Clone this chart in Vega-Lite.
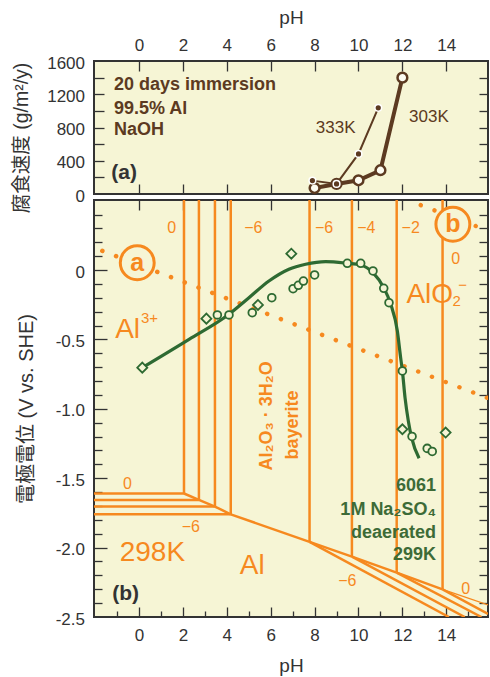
{
  "$schema": "https://vega.github.io/schema/vega-lite/v6.json",
  "background": "white",
  "padding": {"left": 10, "top": 7, "right": 0, "bottom": 0},
  "spacing": 6,
  "bounds": "flush",
  "config": {
    "view": {"stroke": "#333333", "strokeWidth": 2, "fill": "#f6f5d5"},
    "axis": {
      "grid": false, "domain": false, "labelFlush": false, "labelOverlap": false,
      "labelFont": "Liberation Sans", "labelFontSize": 17, "labelColor": "#333333",
      "titleFont": "Liberation Sans", "titleColor": "#333333", "titleFontWeight": "normal",
      "tickColor": "#333333", "tickWidth": 1.3
    },
    "text": {"font": "Liberation Sans"}
  },
  "datasets": {
    "r303": [
      {"pH": 8, "rate": 72}, {"pH": 9, "rate": 121}, {"pH": 10, "rate": 165},
      {"pH": 11, "rate": 286}, {"pH": 12, "rate": 1400}
    ],
    "r333": [
      {"pH": 7.9, "rate": 161}, {"pH": 9, "rate": 121}, {"pH": 10, "rate": 482}, {"pH": 10.9, "rate": 1037}
    ],
    "notesA": [
      {"pH": -1.14, "rate": 1249, "label": "20 days immersion"},
      {"pH": -1.14, "rate": 967, "label": "99.5% Al"},
      {"pH": -1.14, "rate": 707, "label": "NaOH"}
    ],
    "tagA": [{"pH": -0.68, "rate": 257, "label": "(a)"}],
    "tempA": [
      {"pH": 8.96, "rate": 799, "label": "333K"},
      {"pH": 13.21, "rate": 927, "label": "303K"}
    ],
    "edges": [
      {"x1": -2.05, "y1": -1.610, "x2": 2.05, "y2": -1.610},
      {"x1": -2.05, "y1": -1.656, "x2": 2.73, "y2": -1.656},
      {"x1": -2.05, "y1": -1.704, "x2": 3.46, "y2": -1.704},
      {"x1": -2.05, "y1": -1.760, "x2": 4.18, "y2": -1.760},
      {"x1": 2.05, "y1": 0.505, "x2": 2.05, "y2": -1.610},
      {"x1": 2.73, "y1": 0.505, "x2": 2.73, "y2": -1.656},
      {"x1": 3.46, "y1": 0.505, "x2": 3.46, "y2": -1.704},
      {"x1": 4.18, "y1": 0.505, "x2": 4.18, "y2": -1.760},
      {"x1": 7.77, "y1": 0.505, "x2": 7.77, "y2": -1.959},
      {"x1": 9.70, "y1": 0.505, "x2": 9.70, "y2": -2.065},
      {"x1": 11.74, "y1": 0.505, "x2": 11.74, "y2": -2.180},
      {"x1": 13.83, "y1": 0.505, "x2": 13.83, "y2": -2.301},
      {"x1": 2.05, "y1": -1.610, "x2": 2.73, "y2": -1.656},
      {"x1": 2.73, "y1": -1.656, "x2": 3.46, "y2": -1.704},
      {"x1": 3.46, "y1": -1.704, "x2": 4.18, "y2": -1.760},
      {"x1": 4.18, "y1": -1.760, "x2": 7.77, "y2": -1.959},
      {"x1": 7.77, "y1": -1.959, "x2": 9.70, "y2": -2.065},
      {"x1": 9.70, "y1": -2.065, "x2": 11.74, "y2": -2.180},
      {"x1": 11.74, "y1": -2.180, "x2": 13.83, "y2": -2.301},
      {"x1": 7.77, "y1": -1.959, "x2": 14.12, "y2": -2.5},
      {"x1": 9.70, "y1": -2.065, "x2": 14.84, "y2": -2.5},
      {"x1": 11.74, "y1": -2.180, "x2": 15.6, "y2": -2.5},
      {"x1": 13.83, "y1": -2.301, "x2": 15.9, "y2": -2.478}
    ],
    "edgesThin": [
      {"x1": 13.83, "y1": -2.301, "x2": 15.9, "y2": -2.413}
    ],
    "waterA": [{"pH": -2.05, "E": 0.161}, {"pH": 15.9, "E": -0.923}],
    "waterB": [{"pH": 12.23, "E": 0.505}, {"pH": 15.9, "E": 0.284}],
    "nums": [
      {"pH": 1.49, "E": 0.305, "label": "0"},
      {"pH": 5.21, "E": 0.305, "label": "−6"},
      {"pH": 8.43, "E": 0.305, "label": "−6"},
      {"pH": 10.36, "E": 0.305, "label": "−4"},
      {"pH": 12.38, "E": 0.305, "label": "−2"},
      {"pH": 14.43, "E": 0.078, "label": "0"},
      {"pH": -0.53, "E": -1.543, "label": "0"},
      {"pH": 2.36, "E": -1.851, "label": "−6"},
      {"pH": 9.49, "E": -2.240, "label": "−6"},
      {"pH": 14.88, "E": -2.300, "label": "0"}
    ],
    "bigC": [
      {"pH": 0.61, "E": -2.036, "label": "298K"},
      {"pH": 5.16, "E": -2.132, "label": "Al"}
    ],
    "bigR": [
      {"pH": 0.05, "E": -0.487, "label": "Al"},
      {"pH": 14.31, "E": -0.235, "label": "AlO"}
    ],
    "scripts": [
      {"pH": 0.09, "E": -0.379, "label": "3+"},
      {"pH": 14.28, "E": -0.259, "label": "2"},
      {"pH": 14.55, "E": -0.146, "label": "−"}
    ],
    "phase": [
      {"pH": 5.83, "E": -1.051, "label": "Al₂O₃ · 3H₂O"},
      {"pH": 7.02, "E": -1.116, "label": "bayerite"}
    ],
    "lineTags": [
      {"pH": -0.08, "E": 0.053, "label": "a"},
      {"pH": 14.3, "E": 0.330, "label": "b"}
    ],
    "curve": [
      {"pH": 0.15, "E": -0.703}, {"pH": 2.28, "E": -0.499}, {"pH": 4.10, "E": -0.318},
      {"pH": 5.01, "E": -0.199}, {"pH": 5.92, "E": -0.079}, {"pH": 6.83, "E": 0.006},
      {"pH": 7.59, "E": 0.042}, {"pH": 8.50, "E": 0.061}, {"pH": 9.49, "E": 0.049},
      {"pH": 10.10, "E": 0.037}, {"pH": 10.66, "E": -0.019}, {"pH": 11.15, "E": -0.127},
      {"pH": 11.47, "E": -0.246}, {"pH": 11.77, "E": -0.439}, {"pH": 11.92, "E": -0.631},
      {"pH": 12.00, "E": -0.727}, {"pH": 12.12, "E": -0.919}, {"pH": 12.27, "E": -1.087},
      {"pH": 12.42, "E": -1.208}, {"pH": 12.76, "E": -1.356}
    ],
    "gCirc": [
      {"pH": 3.57, "E": -0.323}, {"pH": 4.10, "E": -0.323}, {"pH": 5.16, "E": -0.307},
      {"pH": 6.05, "E": -0.199}, {"pH": 7.02, "E": -0.134}, {"pH": 7.26, "E": -0.110},
      {"pH": 7.49, "E": -0.079}, {"pH": 8.00, "E": -0.035}, {"pH": 9.49, "E": 0.049},
      {"pH": 10.10, "E": 0.049}, {"pH": 10.66, "E": -0.006}, {"pH": 11.15, "E": -0.131},
      {"pH": 11.39, "E": -0.235}, {"pH": 12.00, "E": -0.727}, {"pH": 12.44, "E": -1.199},
      {"pH": 13.13, "E": -1.285}, {"pH": 13.36, "E": -1.307}
    ],
    "gDiam": [
      {"pH": 0.15, "E": -0.703}, {"pH": 3.07, "E": -0.350}, {"pH": 5.42, "E": -0.251},
      {"pH": 6.94, "E": 0.118}, {"pH": 12.00, "E": -1.147}, {"pH": 13.97, "E": -1.171}
    ],
    "gNotes": [
      {"pH": 13.53, "E": -1.555, "label": "6061"},
      {"pH": 13.53, "E": -1.731, "label": "1M Na₂SO₄"},
      {"pH": 13.53, "E": -1.892, "label": "deaerated"},
      {"pH": 13.53, "E": -2.053, "label": "299K"}
    ],
    "tagB": [{"pH": -0.61, "E": -2.331, "label": "(b)"}]
  },
  "vconcat": [
    {
      "width": 394,
      "height": 133,
      "resolve": {"axis": {"x": "independent", "y": "independent"}},
      "layer": [
        {
          "data": {"name": "r333"},
          "mark": {"type": "line", "color": "#5c3a21", "strokeWidth": 2},
          "encoding": {
            "x": {"field": "pH", "type": "quantitative", "scale": {"domain": [-2.05, 15.9], "nice": false, "zero": false},
                  "axis": {"orient": "top", "values": [0, 2, 4, 6, 8, 10, 12, 14], "labels": false, "tickSize": -10, "title": null}},
            "y": {"field": "rate", "type": "quantitative", "scale": {"domain": [0, 1600], "nice": false},
                  "axis": {"orient": "left", "values": [200, 400, 600, 800, 1000, 1200, 1400], "labels": false, "tickSize": -10, "title": null}}
          }
        },
        {
          "data": {"name": "r303"},
          "mark": {"type": "line", "color": "#5c3a21", "strokeWidth": 4},
          "encoding": {
            "x": {"field": "pH", "type": "quantitative", "scale": {"domain": [-2.05, 15.9], "nice": false, "zero": false},
                  "axis": {"orient": "bottom", "values": [0, 2, 4, 6, 8, 10, 12, 14], "labels": false, "tickSize": -10, "title": null}},
            "y": {"field": "rate", "type": "quantitative", "scale": {"domain": [0, 1600], "nice": false},
                  "axis": {"orient": "right", "values": [200, 400, 600, 800, 1000, 1200, 1400], "labels": false, "tickSize": -9, "title": null}}
          }
        },
        {
          "data": {"name": "r303"},
          "mark": {"type": "point", "shape": "circle", "size": 95, "filled": true, "fill": "#fdfcf2", "stroke": "#5c3a21", "strokeWidth": 2.5, "opacity": 1},
          "encoding": {
            "x": {"field": "pH", "type": "quantitative", "scale": {"domain": [-2.05, 15.9], "nice": false, "zero": false},
                  "axis": {"orient": "top", "values": [0, 2, 4, 6, 8, 10, 12, 14], "ticks": false, "labelPadding": 7,
                           "title": "pH", "titleFontSize": 19, "titleY": -34, "titleBaseline": "bottom"}},
            "y": {"field": "rate", "type": "quantitative", "scale": {"domain": [0, 1600], "nice": false},
                  "axis": {"orient": "left", "values": [0, 400, 800, 1200, 1600], "format": "d", "ticks": false, "labelPadding": 9.5, "labelOffset": 2,
                           "title": "腐食速度 (g/m²/y)", "titleFont": "Liberation Sans, Noto Sans CJK JP", "titleFontSize": 19.5,
                           "titleX": -73, "titleY": 76.5, "titleBaseline": "middle", "titleAngle": 270}}
          }
        },
        {
          "data": {"name": "r333"},
          "mark": {"type": "point", "shape": "circle", "size": 45, "filled": true, "fill": "#5c3a21", "stroke": "#ffffff", "strokeWidth": 1.5, "opacity": 1},
          "encoding": {
            "x": {"field": "pH", "type": "quantitative", "axis": null},
            "y": {"field": "rate", "type": "quantitative", "axis": null}
          }
        },
        {
          "data": {"name": "notesA"},
          "mark": {"type": "text", "fontSize": 18, "fontWeight": "bold", "color": "#5c3a21", "align": "left", "baseline": "alphabetic"},
          "encoding": {
            "x": {"field": "pH", "type": "quantitative", "axis": null},
            "y": {"field": "rate", "type": "quantitative", "axis": null},
            "text": {"field": "label", "type": "nominal"}
          }
        },
        {
          "data": {"name": "tagA"},
          "mark": {"type": "text", "fontSize": 21, "fontWeight": "bold", "color": "#333333", "align": "center", "baseline": "middle"},
          "encoding": {
            "x": {"field": "pH", "type": "quantitative", "axis": null},
            "y": {"field": "rate", "type": "quantitative", "axis": null},
            "text": {"field": "label", "type": "nominal"}
          }
        },
        {
          "data": {"name": "tempA"},
          "mark": {"type": "text", "fontSize": 17, "color": "#5c3a21", "align": "center", "baseline": "middle"},
          "encoding": {
            "x": {"field": "pH", "type": "quantitative", "axis": null},
            "y": {"field": "rate", "type": "quantitative", "axis": null},
            "text": {"field": "label", "type": "nominal"}
          }
        }
      ]
    },
    {
      "width": 394,
      "height": 417,
      "resolve": {"axis": {"x": "independent", "y": "independent"}},
      "layer": [
        {
          "data": {"name": "edges"},
          "mark": {"type": "rule", "color": "#f6891f", "strokeWidth": 2.5, "clip": true},
          "encoding": {
            "x": {"field": "x1", "type": "quantitative", "scale": {"domain": [-2.05, 15.9], "nice": false, "zero": false},
                  "axis": {"orient": "bottom", "values": [0, 2, 4, 6, 8, 10, 12, 14], "ticks": false, "labelPadding": 10,
                           "title": "pH", "titleFontSize": 19, "titleY": 39, "titleBaseline": "top"}},
            "y": {"field": "y1", "type": "quantitative", "scale": {"domain": [-2.5, 0.505], "nice": false, "zero": false},
                  "axis": {"orient": "left", "values": [0, -0.5, -1, -1.5, -2, -2.5], "ticks": false, "labelPadding": 9.5, "labelOffset": 2,
                           "labelExpr": "datum.value == 0 ? '0' : '-' + format(abs(datum.value), '.1f')",
                           "title": "電極電位 (V vs. SHE)", "titleFont": "Liberation Sans, Noto Sans CJK JP", "titleFontSize": 20,
                           "titleX": -68, "titleBaseline": "middle", "titleAngle": 270}},
            "x2": {"field": "x2"},
            "y2": {"field": "y2"}
          }
        },
        {
          "data": {"name": "edgesThin"},
          "mark": {"type": "rule", "color": "#f6891f", "strokeWidth": 1.2, "clip": true},
          "encoding": {
            "x": {"field": "x1", "type": "quantitative", "scale": {"domain": [-2.05, 15.9], "nice": false, "zero": false},
                  "axis": {"orient": "bottom", "values": [0, 2, 4, 6, 8, 10, 12, 14], "labels": false, "tickSize": -10, "title": null}},
            "y": {"field": "y1", "type": "quantitative", "scale": {"domain": [-2.5, 0.505], "nice": false, "zero": false},
                  "axis": {"orient": "left", "values": [0, -0.5, -1, -1.5, -2], "labels": false, "tickSize": -13, "title": null}},
            "x2": {"field": "x2"},
            "y2": {"field": "y2"}
          }
        },
        {
          "data": {"name": "waterA"},
          "mark": {"type": "line", "color": "#f6891f", "strokeWidth": 4.5, "strokeCap": "round", "strokeDash": [0.1, 14.6], "strokeDashOffset": 5.8, "clip": true},
          "encoding": {
            "x": {"field": "pH", "type": "quantitative", "scale": {"domain": [-2.05, 15.9], "nice": false, "zero": false},
                  "axis": {"orient": "bottom", "values": [-1, 1, 3, 5, 7, 9, 11, 13, 15], "labels": false, "tickSize": -6, "title": null}},
            "y": {"field": "E", "type": "quantitative", "scale": {"domain": [-2.5, 0.505], "nice": false, "zero": false},
                  "axis": {"orient": "left", "values": [0.4, 0.3, 0.2, 0.1, -0.1, -0.2, -0.3, -0.4, -0.6, -0.7, -0.8, -0.9, -1.1, -1.2, -1.3, -1.4, -1.6, -1.7, -1.8, -1.9, -2.1, -2.2, -2.3, -2.4],
                           "labels": false, "tickSize": -8, "title": null}}
          }
        },
        {
          "data": {"name": "waterB"},
          "mark": {"type": "line", "color": "#f6891f", "strokeWidth": 4.5, "strokeCap": "round", "strokeDash": [0.1, 14.6], "strokeDashOffset": 0.5, "clip": true},
          "encoding": {
            "x": {"field": "pH", "type": "quantitative", "scale": {"domain": [-2.05, 15.9], "nice": false, "zero": false},
                  "axis": {"orient": "top", "values": [0, 2, 4, 6, 8, 10, 12, 14], "labels": false, "tickSize": -10, "title": null}},
            "y": {"field": "E", "type": "quantitative", "scale": {"domain": [-2.5, 0.505], "nice": false, "zero": false},
                  "axis": {"orient": "right", "values": [0.4, 0.3, 0.2, 0.1, 0, -0.1, -0.2, -0.3, -0.4, -0.5, -0.6, -0.7, -0.8, -0.9, -1, -1.1, -1.2, -1.3, -1.4, -1.5, -1.6, -1.7, -1.8, -1.9, -2, -2.1, -2.2, -2.3, -2.4],
                           "labels": false, "tickSize": -9, "title": null}}
          }
        },
        {
          "data": {"name": "nums"},
          "mark": {"type": "text", "fontSize": 16, "color": "#f6891f", "align": "center", "baseline": "middle"},
          "encoding": {
            "x": {"field": "pH", "type": "quantitative", "axis": null},
            "y": {"field": "E", "type": "quantitative", "axis": null},
            "text": {"field": "label", "type": "nominal"}
          }
        },
        {
          "data": {"name": "bigC"},
          "mark": {"type": "text", "fontSize": 28, "color": "#f6891f", "align": "center", "baseline": "middle"},
          "encoding": {
            "x": {"field": "pH", "type": "quantitative", "axis": null},
            "y": {"field": "E", "type": "quantitative", "axis": null},
            "text": {"field": "label", "type": "nominal"}
          }
        },
        {
          "data": {"name": "bigR"},
          "mark": {"type": "text", "fontSize": 28, "color": "#f6891f", "align": "right", "baseline": "alphabetic"},
          "encoding": {
            "x": {"field": "pH", "type": "quantitative", "axis": null},
            "y": {"field": "E", "type": "quantitative", "axis": null},
            "text": {"field": "label", "type": "nominal"}
          }
        },
        {
          "data": {"name": "scripts"},
          "mark": {"type": "text", "fontSize": 15, "color": "#f6891f", "align": "left", "baseline": "alphabetic"},
          "encoding": {
            "x": {"field": "pH", "type": "quantitative", "axis": null},
            "y": {"field": "E", "type": "quantitative", "axis": null},
            "text": {"field": "label", "type": "nominal"}
          }
        },
        {
          "data": {"name": "phase"},
          "mark": {"type": "text", "fontSize": 18, "fontWeight": "bold", "color": "#f6891f", "align": "center", "baseline": "middle", "angle": 270},
          "encoding": {
            "x": {"field": "pH", "type": "quantitative", "axis": null},
            "y": {"field": "E", "type": "quantitative", "axis": null},
            "text": {"field": "label", "type": "nominal"}
          }
        },
        {
          "data": {"name": "lineTags"},
          "mark": {"type": "point", "shape": "circle", "size": 1150, "filled": true, "fill": "#f6f5d5", "stroke": "#f6891f", "strokeWidth": 3, "opacity": 1},
          "encoding": {
            "x": {"field": "pH", "type": "quantitative", "axis": null},
            "y": {"field": "E", "type": "quantitative", "axis": null}
          }
        },
        {
          "data": {"name": "lineTags"},
          "mark": {"type": "text", "fontSize": 25, "fontWeight": "bold", "color": "#f6891f", "align": "center", "baseline": "middle"},
          "encoding": {
            "x": {"field": "pH", "type": "quantitative", "axis": null},
            "y": {"field": "E", "type": "quantitative", "axis": null},
            "text": {"field": "label", "type": "nominal"}
          }
        },
        {
          "data": {"name": "curve"},
          "mark": {"type": "line", "color": "#2e6a32", "strokeWidth": 3.2, "interpolate": "monotone"},
          "encoding": {
            "x": {"field": "pH", "type": "quantitative", "axis": null},
            "y": {"field": "E", "type": "quantitative", "axis": null}
          }
        },
        {
          "data": {"name": "gCirc"},
          "mark": {"type": "point", "shape": "circle", "size": 60, "filled": true, "fill": "#f6f5d5", "stroke": "#2e6a32", "strokeWidth": 1.8, "opacity": 1},
          "encoding": {
            "x": {"field": "pH", "type": "quantitative", "axis": null},
            "y": {"field": "E", "type": "quantitative", "axis": null}
          }
        },
        {
          "data": {"name": "gDiam"},
          "mark": {"type": "point", "shape": "diamond", "size": 100, "filled": true, "fill": "#f6f5d5", "stroke": "#2e6a32", "strokeWidth": 1.8, "opacity": 1},
          "encoding": {
            "x": {"field": "pH", "type": "quantitative", "axis": null},
            "y": {"field": "E", "type": "quantitative", "axis": null}
          }
        },
        {
          "data": {"name": "gNotes"},
          "mark": {"type": "text", "fontSize": 18, "fontWeight": "bold", "color": "#3d6b37", "align": "right", "baseline": "middle"},
          "encoding": {
            "x": {"field": "pH", "type": "quantitative", "axis": null},
            "y": {"field": "E", "type": "quantitative", "axis": null},
            "text": {"field": "label", "type": "nominal"}
          }
        },
        {
          "data": {"name": "tagB"},
          "mark": {"type": "text", "fontSize": 21, "fontWeight": "bold", "color": "#333333", "align": "center", "baseline": "middle"},
          "encoding": {
            "x": {"field": "pH", "type": "quantitative", "axis": null},
            "y": {"field": "E", "type": "quantitative", "axis": null},
            "text": {"field": "label", "type": "nominal"}
          }
        }
      ]
    }
  ]
}
